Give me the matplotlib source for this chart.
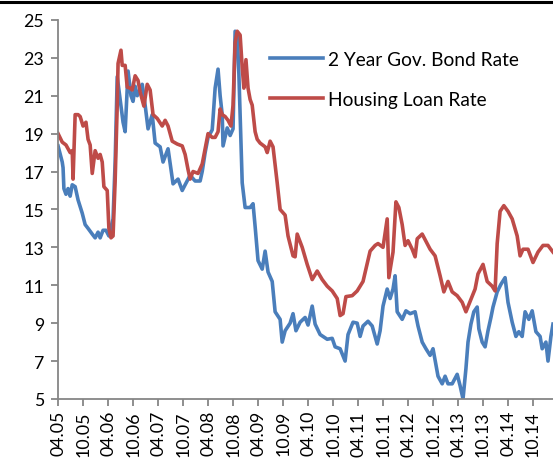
import matplotlib.pyplot as plt
from matplotlib.lines import Line2D

# months since April 2005
bond_month = [0.0, 1.0, 1.2, 1.4, 1.9, 2.4, 2.9, 3.4, 4.1, 4.8, 5.8, 6.5, 7.2, 8.2, 8.9, 9.6,
              10.1, 10.8, 11.5, 12.2, 13.2, 13.7, 14.2, 14.9, 15.6, 16.1, 16.8, 17.5, 18.0,
              18.5, 19.0, 20.2, 20.9, 21.6, 22.6, 23.3, 24.5, 25.2, 26.4, 27.6, 28.8, 29.8,
              30.5, 31.7, 32.9, 34.1, 34.6, 35.3, 36.0, 37.0, 37.2, 37.7, 38.4, 38.9, 39.4,
              39.6, 40.6, 41.3, 42.0, 42.5, 43.0, 43.4, 44.2, 44.9, 46.1, 46.8, 47.3, 48.0,
              49.0, 49.7, 50.4, 51.4, 52.1, 53.3, 53.8, 54.5, 55.7, 56.4, 57.1, 58.1, 59.3,
              60.0, 61.0, 61.7, 62.9, 64.6, 65.8, 66.5, 67.7, 68.9, 69.6, 70.8, 71.8, 72.5,
              73.2, 74.4, 75.4, 76.6, 77.3, 78.0, 79.0, 79.7, 80.4, 80.9, 81.4, 82.6, 83.5,
              84.5, 85.7, 86.4, 87.4, 88.3, 89.3, 90.0, 91.2, 92.2, 92.9, 93.6, 94.6, 95.8,
              96.5, 97.2, 97.9, 98.4, 99.1, 99.8, 100.6, 101.0, 101.8, 102.5, 103.2, 103.9,
              104.4, 105.4, 106.3, 107.3, 108.0, 109.0, 109.9, 110.6, 111.4, 112.1, 113.0,
              113.8, 114.7, 115.7, 116.2, 117.1, 117.6, 118.3, 118.8]
bond_rate = [18.35, 17.5, 17.2, 16.1, 15.8, 16.1, 15.7, 16.3, 16.2, 15.5, 14.8, 14.2, 14.0, 13.7,
             13.5, 13.8, 13.5, 13.9, 13.9, 13.6, 14.5, 17.5, 22.0, 20.8, 19.6, 19.1, 22.3, 21.0,
             20.7, 21.5, 21.0, 21.6, 20.5, 19.25, 20.0, 18.5, 18.3, 17.5, 18.2, 16.35, 16.6,
             16.0, 16.3, 16.8, 16.5, 16.5, 17.0, 18.0, 18.8, 19.2, 19.8, 21.4, 22.4, 21.0, 20.0,
             18.35, 19.3, 18.9, 19.25, 24.4, 24.3, 22.15, 16.4, 15.1, 15.1, 15.3, 14.1, 12.3,
             11.85, 12.8, 11.7, 11.2, 9.6, 9.2, 8.0, 8.6, 9.0, 9.5, 8.6, 9.05, 9.3, 8.9, 9.9,
             8.95, 8.4, 8.15, 8.2, 7.75, 7.65, 7.0, 8.4, 9.05, 9.0, 8.3, 8.85, 9.1, 8.85, 7.9,
             8.6, 9.9, 10.8, 10.3, 10.8, 11.5, 9.6, 9.2, 9.65, 9.5, 9.6, 8.85, 8.0, 7.65, 7.3,
             7.65, 6.2, 5.8, 6.2, 5.8, 5.8, 6.3, 5.7, 5.0, 6.6, 8.0, 8.95, 9.6, 9.85, 8.7, 8.0,
             7.75, 8.6, 9.3, 9.85, 10.65, 11.05, 11.4, 10.1, 9.05, 8.3, 8.55, 8.3, 9.6, 9.2,
             9.65, 8.55, 8.3, 7.65, 8.0, 7.0, 8.3, 8.95]

loan_month = [0.0, 1.0, 1.9, 2.9, 3.4, 3.6, 4.1, 4.8, 5.3, 6.0, 6.7, 7.2, 7.7, 8.2, 8.9, 9.6,
              10.1, 10.6, 11.0, 11.8, 12.2, 12.7, 13.2, 13.7, 14.2, 14.4, 15.1, 15.4, 16.1,
              16.6, 17.3, 17.8, 18.5, 19.2, 19.7, 20.6, 21.4, 22.1, 22.8, 23.8, 25.0, 25.7,
              26.4, 27.4, 28.6, 29.8, 30.5, 31.2, 31.7, 32.4, 33.6, 34.6, 35.3, 36.0, 37.0,
              37.7, 38.4, 38.9, 39.4, 40.1, 40.8, 41.5, 42.0, 42.5, 43.0, 43.7, 44.2, 44.6,
              45.1, 45.6, 46.1, 46.6, 47.3, 47.8, 48.5, 49.7, 50.2, 50.9, 51.6, 52.6, 53.3,
              54.5, 55.2, 56.4, 56.9, 57.4, 58.6, 59.8, 61.0, 62.2, 63.4, 64.6, 65.8, 67.0,
              67.7, 68.4, 69.1, 70.6, 71.8, 73.2, 74.9, 76.1, 76.8, 78.0, 79.0, 79.4, 80.4,
              81.1, 81.8, 82.6, 83.3, 84.0, 85.0, 85.7, 86.2, 87.4, 88.6, 89.3, 90.5, 91.7,
              92.6, 93.6, 94.6, 95.8, 97.0, 97.9, 98.9, 100.1, 100.8, 102.0, 103.0, 104.2,
              104.9, 105.4, 106.1, 107.0, 108.0, 109.0, 110.2, 110.9, 111.6, 112.8, 114.0,
              115.2, 116.4, 117.6, 118.8]
loan_rate = [19.0, 18.55, 18.4, 18.0, 18.1, 16.6, 20.0, 20.0, 19.9, 19.4, 19.6, 18.7, 18.4, 16.9,
             18.1, 17.7, 17.9, 17.5, 16.2, 16.0, 14.0, 13.5, 13.6, 16.5, 20.5, 22.7, 23.4, 22.6,
             22.6, 21.45, 21.4, 21.3, 22.05, 21.8, 21.2, 20.45, 21.6, 21.3, 20.0, 19.8, 19.4,
             19.7, 19.4, 18.6, 18.45, 18.35, 17.9, 17.1, 16.6, 17.0, 16.9, 17.4, 18.2, 19.0,
             18.8, 18.8, 19.1, 20.3, 20.0, 19.9, 19.7, 19.4, 20.5, 23.8, 24.4, 24.2, 22.5, 21.4,
             22.9, 21.4, 20.8, 20.5, 19.1, 18.7, 18.5, 18.3, 18.0, 18.6, 18.3, 16.4, 15.0, 14.7,
             13.6, 12.55, 12.5, 13.7, 13.0, 12.1, 11.3, 11.75, 11.3, 10.95, 10.7, 10.3, 9.4,
             9.5, 10.4, 10.45, 10.7, 11.2, 12.8, 13.1, 13.2, 13.0, 14.5, 11.4, 12.75, 15.4,
             15.1, 14.2, 13.1, 13.35, 12.9, 12.5, 13.45, 13.7, 13.2, 12.9, 12.55, 11.5, 10.65,
             11.2, 10.65, 10.45, 10.1, 9.6, 10.15, 10.8, 11.6, 12.1, 11.2, 10.95, 10.7, 13.2,
             14.9, 15.2, 14.9, 14.5, 13.6, 12.55, 12.9, 12.9, 12.2, 12.75, 13.1, 13.1, 12.75]

tick_labels = ['04.05', '10.05', '04.06', '10.06', '04.07', '10.07', '04.08', '10.08',
               '04.09', '10.09', '04.10', '10.10', '04.11', '10.11', '04.12', '10.12',
               '04.13', '10.13', '04.14', '10.14']

plt.rcParams['font.family'] = ['Lato', 'DejaVu Sans']

fig = plt.figure(figsize=(5.53, 4.64), dpi=100)
ax = fig.add_axes([0.105, 0.138, 0.895, 0.817])

ax.plot(bond_month, bond_rate, color='#4a7ebb', lw=2.6, label='2 Year Gov. Bond Rate',
        solid_joinstyle='round')
ax.plot(loan_month, loan_rate, color='#be4b48', lw=2.6, label='Housing Loan Rate',
        solid_joinstyle='round')

ax.set_xlim(0, 118.8)
ax.set_ylim(5, 25)
ax.set_yticks(range(5, 26, 2))
ax.set_xticks([6 * i for i in range(len(tick_labels))])
ax.set_xticklabels(tick_labels, rotation=90)

for s in ['top', 'right']:
    ax.spines[s].set_visible(False)
for s in ['left', 'bottom']:
    ax.spines[s].set_color('#868686')
    ax.spines[s].set_linewidth(1.3)
ax.tick_params(axis='both', colors='#868686', labelcolor='black', labelsize=12.8,
               length=5, width=1.3, direction='out')
ax.tick_params(axis='y', pad=5)
ax.tick_params(axis='x', pad=3)

ax.legend(loc='upper left', bbox_to_anchor=(270 / 553, 1 - 52 / 464),
          bbox_transform=fig.transFigure, frameon=False, fontsize=13.8,
          handlelength=2.75, handletextpad=0.25, labelspacing=1.2, borderaxespad=0,
          borderpad=0)

fig.add_artist(Line2D([0, 1], [1 - 2.5 / 464, 1 - 2.5 / 464], color='black', lw=2.2,
                      transform=fig.transFigure))

plt.savefig('out.png', dpi=100)
